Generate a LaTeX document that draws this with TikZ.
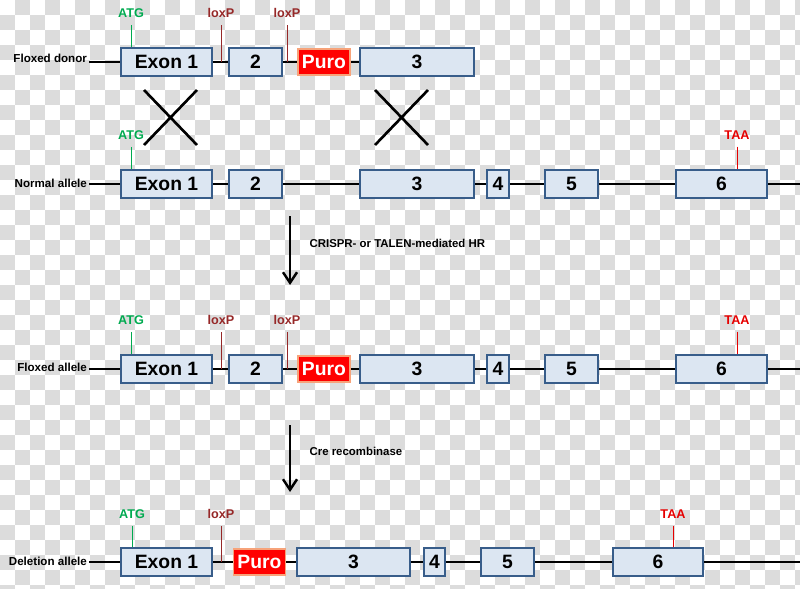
\documentclass[tikz,border=0pt]{standalone}
\usepackage{fontspec}
\setmainfont{Liberation Sans}
\usetikzlibrary{arrows.meta}
\definecolor{checker}{RGB}{220,220,220}
\definecolor{exfill}{RGB}{220,230,242}
\definecolor{exline}{RGB}{56,93,138}
\definecolor{atggreen}{RGB}{0,170,80}
\definecolor{loxred}{RGB}{150,40,40}
\definecolor{taared}{RGB}{230,0,0}
\definecolor{puroline}{RGB}{247,163,122}
\begin{document}
\begin{tikzpicture}[x=0.02cm, y=-0.02cm,
  exon/.style={draw=exline, fill=exfill, line width=1.2pt, minimum height=0.56cm, inner sep=0pt, font=\bfseries\fontsize{11}{13}\selectfont},
  puro/.style={draw=puroline, fill=red, line width=1pt, minimum height=0.52cm, minimum width=1.04cm, inner sep=0pt, text=white, font=\bfseries\fontsize{11}{13}\selectfont},
  allele/.style={anchor=east, inner sep=1pt, font=\bfseries\fontsize{6.6}{8}\selectfont},
  site/.style={inner xsep=1pt, inner ysep=4pt, font=\bfseries\fontsize{7.2}{8}\selectfont},
  atg/.style={site, text=atggreen},
  lox/.style={site, text=loxred},
  taa/.style={site, text=taared},
  dna/.style={line width=1.6pt},
  cross/.style={line width=1.5pt},
  hrarrow/.style={line width=1.4pt, -{Straight Barb[length=6pt,width=8pt]}},
  note/.style={right=0.25cm, font=\bfseries\fontsize{6.5}{8}\selectfont}]
\useasboundingbox (0,0) rectangle (800,588);
\begin{scope}
\clip (0,0) rectangle (800,588);
\foreach \j in {0,...,39} {
  \pgfmathtruncatemacro\off{mod(\j+1,2)}
  \foreach \i in {0,...,26}
    \fill[checker] ({(2*\i+\off)*15},{\j*15}) rectangle ++(15,15);
}
\end{scope}

% floxed donor
\node[allele] (ld) at (89,58) {Floxed donor};
\node[exon, minimum width=1.82cm] (d1) at (166.5,62) {Exon 1};
\node[exon, minimum width=1.06cm] (d2) at (255.5,62) {2};
\node[puro] (dp) at (324,62) {Puro};
\node[exon, minimum width=2.28cm] (d3) at (417,62) {3};
\draw[dna] (d1 -| ld.east) -- (d1) -- (d2) -- (dp) -- (d3);
\node[atg] (atgd) at (131,13) {ATG};
\node[lox] (loxd1) at (221,13) {loxP};
\node[lox] (loxd2) at (287,13) {loxP};
\draw[atggreen] (atgd) -- (atgd |- d1.north);
\draw[loxred] (loxd1) -- (loxd1 |- d1);
\draw[loxred] (loxd2) -- (loxd2 |- d1);

% crossovers
\draw[cross] (144,90) -- (197,145) (144,145) -- (197,90);
\draw[cross] (375,90) -- (428,145) (375,145) -- (428,90);

% normal allele
\node[allele] (ln) at (89,183) {Normal allele};
\node[exon, minimum width=1.82cm] (n1) at (166.5,184) {Exon 1};
\node[exon, minimum width=1.06cm] (n2) at (255.5,184) {2};
\node[exon, minimum width=2.28cm] (n3) at (417,184) {3};
\node[exon, minimum width=0.44cm] (n4) at (498,184) {4};
\node[exon, minimum width=1.06cm] (n5) at (571.5,184) {5};
\node[exon, minimum width=1.82cm] (n6) at (721.5,184) {6};
\coordinate (nend) at (800,184);
\draw[dna] (n1 -| ln.east) -- (n1) -- (n2) -- (n3) -- (n4) -- (n5) -- (n6) -- (nend);
\node[atg] (atgn) at (131,135) {ATG};
\node[taa] (taan) at (737,135) {TAA};
\draw[atggreen] (atgn) -- (atgn |- n1.north);
\draw[taared] (taan) -- (taan |- n6.north);

% HR step
\coordinate (hrtop) at (290,216);
\coordinate (hrbot) at (290,285);
\draw[hrarrow] (hrtop) -- node[note, pos=0.4] {CRISPR- or TALEN-mediated HR} (hrbot);

% floxed allele
\node[allele] (lf) at (89,367) {Floxed allele};
\node[exon, minimum width=1.82cm] (f1) at (166.5,369) {Exon 1};
\node[exon, minimum width=1.06cm] (f2) at (255.5,369) {2};
\node[puro] (fp) at (324,369) {Puro};
\node[exon, minimum width=2.28cm] (f3) at (417,369) {3};
\node[exon, minimum width=0.44cm] (f4) at (498,369) {4};
\node[exon, minimum width=1.06cm] (f5) at (571.5,369) {5};
\node[exon, minimum width=1.82cm] (f6) at (721.5,369) {6};
\coordinate (fend) at (800,369);
\draw[dna] (f1 -| lf.east) -- (f1) -- (f2) -- (fp) -- (f3) -- (f4) -- (f5) -- (f6) -- (fend);
\node[atg] (atgf) at (131,320) {ATG};
\node[lox] (loxf1) at (221,320) {loxP};
\node[lox] (loxf2) at (287,320) {loxP};
\node[taa] (taaf) at (737,320) {TAA};
\draw[atggreen] (atgf) -- (atgf |- f1.north);
\draw[loxred] (loxf1) -- (loxf1 |- f1);
\draw[loxred] (loxf2) -- (loxf2 |- f1);
\draw[taared] (taaf) -- (taaf |- f6.north);

% Cre step
\coordinate (cretop) at (290,425);
\coordinate (crebot) at (290,492);
\draw[hrarrow] (cretop) -- node[note, pos=0.39] {Cre recombinase} (crebot);

% deletion allele
\node[allele] (lx) at (89,561) {Deletion allele};
\node[exon, minimum width=1.82cm] (x1) at (166.5,562) {Exon 1};
\node[puro] (xp) at (259.5,562) {Puro};
\node[exon, minimum width=2.26cm] (x3) at (353.5,562) {3};
\node[exon, minimum width=0.42cm] (x4) at (434.5,562) {4};
\node[exon, minimum width=1.06cm] (x5) at (507.5,562) {5};
\node[exon, minimum width=1.80cm] (x6) at (658,562) {6};
\coordinate (xend) at (800,562);
\draw[dna] (x1 -| lx.east) -- (x1) -- (xp) -- (x3) -- (x4) -- (x5) -- (x6) -- (xend);
\node[atg] (atgx) at (132,514) {ATG};
\node[lox] (loxx) at (221,514) {loxP};
\node[taa] (taax) at (673,514) {TAA};
\draw[atggreen] (atgx) -- (atgx |- x1.north);
\draw[loxred] (loxx) -- (loxx |- x1);
\draw[taared] (taax) -- (taax |- x6.north);
\end{tikzpicture}
\end{document}
